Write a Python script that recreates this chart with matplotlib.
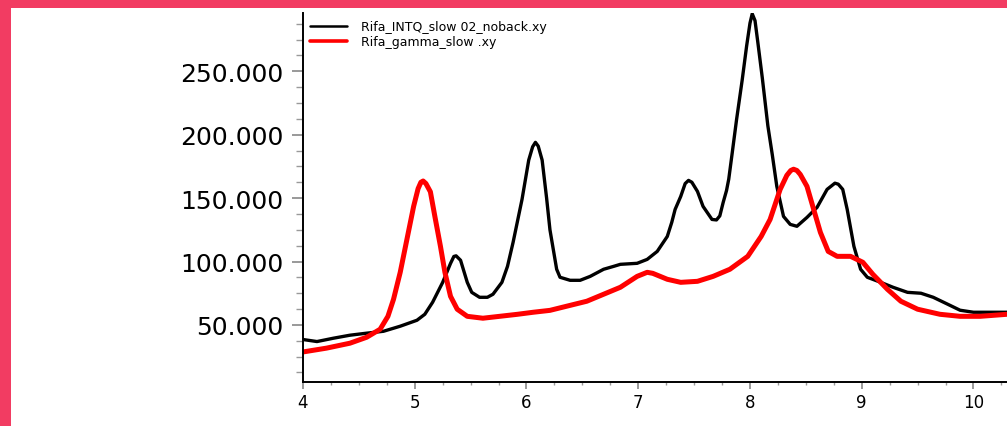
import matplotlib
matplotlib.use("Agg")
import matplotlib.pyplot as plt
from matplotlib.patches import Rectangle
from matplotlib.ticker import MultipleLocator, FuncFormatter

# black trace: Rifa_INTQ_slow 02_noback.xy
x_intq = [4.00, 4.125, 4.27, 4.42, 4.57, 4.72, 4.87, 5.02, 5.09, 5.16, 5.25, 5.32, 5.35, 5.37,
          5.41, 5.47, 5.51, 5.58, 5.65, 5.70, 5.78, 5.83, 5.88, 5.96, 6.02, 6.055, 6.08, 6.105,
          6.14, 6.18, 6.21, 6.27, 6.30, 6.39, 6.48, 6.57, 6.69, 6.78, 6.84, 6.99, 7.08, 7.17,
          7.26, 7.30, 7.33, 7.38, 7.42, 7.45, 7.48, 7.53, 7.58, 7.66, 7.70, 7.73, 7.76, 7.79,
          7.81, 7.84, 7.88, 7.93, 7.97, 8.00, 8.02, 8.045, 8.07, 8.11, 8.16, 8.20, 8.24, 8.30,
          8.36, 8.42, 8.51, 8.60, 8.69, 8.76, 8.79, 8.83, 8.87, 8.93, 8.99, 9.05, 9.17, 9.28,
          9.41, 9.53, 9.64, 9.77, 9.88, 10.00, 10.18, 10.30]
y_intq = [38.5, 36.9, 39.5, 41.9, 43.5, 45.0, 49.0, 53.7, 58.4, 67.9, 83.6, 98.5, 104.0, 104.5,
          101.0, 83.6, 75.7, 71.8, 71.8, 74.2, 83.6, 96.2, 115.1, 149.0, 180.0, 190.5, 194.0,
          191.0, 180.0, 150.0, 125.0, 93.9, 87.6, 85.2, 85.2, 88.3, 93.9, 96.2, 97.8, 98.6,
          101.7, 108.0, 119.8, 130.9, 141.1, 151.3, 161.5, 164.0, 162.5, 155.3, 143.5, 133.2,
          132.8, 136.0, 146.6, 156.0, 165.0, 185.0, 212.0, 243.0, 270.0, 288.0, 295.4, 290.0,
          273.0, 245.0, 207.0, 184.0, 159.3, 135.6, 129.3, 127.8, 134.8, 142.7, 156.9, 161.8,
          161.0, 156.9, 141.1, 112.0, 93.9, 87.6, 83.6, 79.7, 75.7, 75.0, 71.8, 66.3, 61.6,
          60.0, 60.0, 60.0]

# red trace: Rifa_gamma_slow .xy
x_gamma = [4.00, 4.21, 4.42, 4.57, 4.69, 4.76, 4.81, 4.87, 4.93, 4.99, 5.03, 5.055, 5.075, 5.10,
           5.14, 5.18, 5.23, 5.27, 5.32, 5.38, 5.47, 5.61, 5.76, 5.92, 6.06, 6.21, 6.54, 6.84,
           6.99, 7.08, 7.13, 7.26, 7.38, 7.53, 7.67, 7.82, 7.98, 8.10, 8.18, 8.27, 8.33, 8.365,
           8.39, 8.42, 8.45, 8.51, 8.57, 8.63, 8.70, 8.78, 8.90, 9.01, 9.10, 9.23, 9.35, 9.50,
           9.70, 9.88, 10.06, 10.30]
y_gamma = [28.7, 31.7, 35.6, 40.3, 46.6, 56.8, 70.2, 91.5, 117.5, 143.5, 157.5, 162.5, 163.5,
           161.5, 155.0, 135.6, 112.0, 91.5, 72.6, 62.4, 56.8, 55.3, 56.8, 58.4, 60.0, 61.5,
           68.7, 79.7, 88.3, 91.5, 90.7, 86.0, 83.6, 84.4, 88.3, 93.9, 104.1, 119.8, 133.2,
           156.9, 168.0, 171.8, 172.8, 171.8, 168.7, 159.3, 141.1, 123.0, 108.0, 104.1, 104.1,
           99.4, 89.9, 78.1, 68.7, 62.4, 58.4, 56.8, 56.8, 58.4]

labels = ["Rifa_INTQ_slow 02_noback.xy", "Rifa_gamma_slow .xy"]

W, H = 1007, 427
fig = plt.figure(figsize=(W / 100, H / 100), dpi=100, facecolor="#F23C62")
# white panel inside the pink frame (frame only on top and left)
fig.patches.append(Rectangle((11 / W, 0), 1 - 11 / W, 1 - 9 / H, transform=fig.transFigure,
                             facecolor="white", edgecolor="none", zorder=-10))

ax = fig.add_axes([303 / W, 44 / H, 1 - 303 / W, 369 / H])
ax.patch.set_alpha(0)

ax.plot(x_intq, y_intq, color="black", lw=2.4, label=labels[0],
        solid_joinstyle="round", solid_capstyle="round")
ax.plot(x_gamma, y_gamma, color="#FF0000", lw=3.6, label=labels[1],
        solid_joinstyle="round", solid_capstyle="round")

ax.set_xlim(4, 10.3)
ax.set_ylim(5, 296)

for s in ["top", "right"]:
    ax.spines[s].set_visible(False)
for s in ["left", "bottom"]:
    ax.spines[s].set_linewidth(1.4)

ax.xaxis.set_major_locator(MultipleLocator(1))
ax.xaxis.set_minor_locator(MultipleLocator(0.25))
ax.yaxis.set_major_locator(MultipleLocator(50))
ax.yaxis.set_minor_locator(MultipleLocator(12.5))
ax.yaxis.set_major_formatter(FuncFormatter(lambda v, p: "%d.000" % v))

ax.tick_params(axis="y", which="major", direction="out", length=8, width=1.2, color="#888888",
               labelsize=18, pad=6)
ax.tick_params(axis="y", which="minor", direction="out", length=5, width=1, color="#999999")
ax.tick_params(axis="x", which="major", direction="out", length=5, width=1.2, color="#888888",
               labelsize=12, pad=3)
ax.tick_params(axis="x", which="minor", direction="out", length=2, width=1, color="#999999")

leg = ax.legend(loc="upper left", bbox_to_anchor=(0.0, 1.0), frameon=False, fontsize=9,
                handlelength=3.0, handletextpad=1.1, labelspacing=0.2, borderaxespad=0.15)
for line, w in zip(leg.get_lines(), [1.8, 2.6]):
    line.set_linewidth(w)

fig.savefig("out.png", dpi=100, facecolor=fig.get_facecolor())
